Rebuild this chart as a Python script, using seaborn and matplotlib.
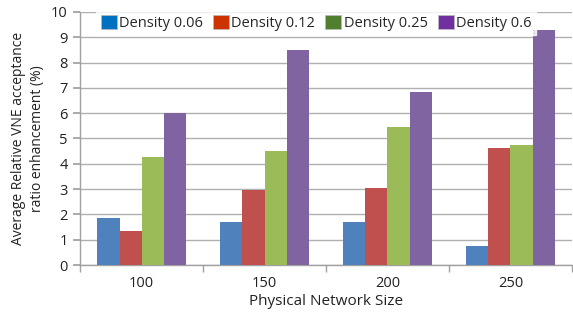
import matplotlib
matplotlib.use("Agg")
import matplotlib.pyplot as plt
import matplotlib.patches as mpatches
import numpy as np
import pandas as pd
import seaborn as sns

sizes = ["100", "150", "200", "250"]
densities = ["Density 0.06", "Density 0.12", "Density 0.25", "Density 0.6"]
d006 = [1.87, 1.70, 1.70, 0.75]
d012 = [1.33, 2.97, 3.05, 4.62]
d025 = [4.28, 4.50, 5.45, 4.75]
d060 = [6.00, 8.48, 6.83, 9.27]

bar_colors = ["#4F81BD", "#C0504D", "#9BBB59", "#8064A2"]
legend_colors = ["#0070C0", "#CC3300", "#4F7F2F", "#7030A0"]

sns.set_theme(style="white")
plt.rcParams["font.family"] = ["Open Sans", "DejaVu Sans"]

rows = []
for dens, vals in zip(densities, [d006, d012, d025, d060]):
    for s, v in zip(sizes, vals):
        rows.append({"size": s, "density": dens, "value": v})
df = pd.DataFrame(rows)

fig = plt.figure(figsize=(5.73, 3.14), dpi=100)
ax = fig.add_axes([0.14, 0.156, 0.858, 0.806])

sns.barplot(data=df, x="size", y="value", hue="density", hue_order=densities,
            palette=bar_colors, width=0.72, saturation=1, ax=ax, legend=False,
            linewidth=0, edgecolor="none", zorder=3)

ax.set_ylim(0, 10)
ax.set_xlim(-0.5, 3.5)
ax.set_yticks(range(0, 11))
ax.yaxis.grid(True, color="#B0B0B0", linewidth=1, zorder=0)
ax.set_axisbelow(True)

for sp in ["top", "right"]:
    ax.spines[sp].set_visible(False)
for sp in ["left", "bottom"]:
    ax.spines[sp].set_color("#A0A0A0")
    ax.spines[sp].set_linewidth(1)

ax.tick_params(axis="y", length=5, color="#A0A0A0", labelsize=10.5, pad=4,
               left=True, labelcolor="#222222")
ax.tick_params(axis="x", length=0, labelsize=10.5, pad=8, labelcolor="#222222")
ax.set_xticks(np.arange(-0.5, 4, 1), minor=True)
ax.tick_params(axis="x", which="minor", length=5, color="#A0A0A0", bottom=True)

ax.set_xlabel("Physical Network Size", fontsize=11, color="#222222", labelpad=2)
ax.set_ylabel("Average Relative VNE acceptance\nratio enhancement (%)",
              fontsize=10, color="#222222", labelpad=4, linespacing=1.4)

handles = [mpatches.Patch(facecolor=c, edgecolor="#BBBBBB", linewidth=0.5, label=l)
           for c, l in zip(legend_colors, densities)]
leg = ax.legend(handles=handles, ncol=4, loc="upper center",
                bbox_to_anchor=(0.48, 1.035), frameon=True, fontsize=10.5,
                handlelength=1.1, handleheight=1.1, handletextpad=0.15,
                columnspacing=0.7, borderpad=0.3, fancybox=False)
leg.get_frame().set_facecolor("white")
leg.get_frame().set_edgecolor("white")
leg.set_zorder(5)

fig.savefig("out.png", dpi=100)
